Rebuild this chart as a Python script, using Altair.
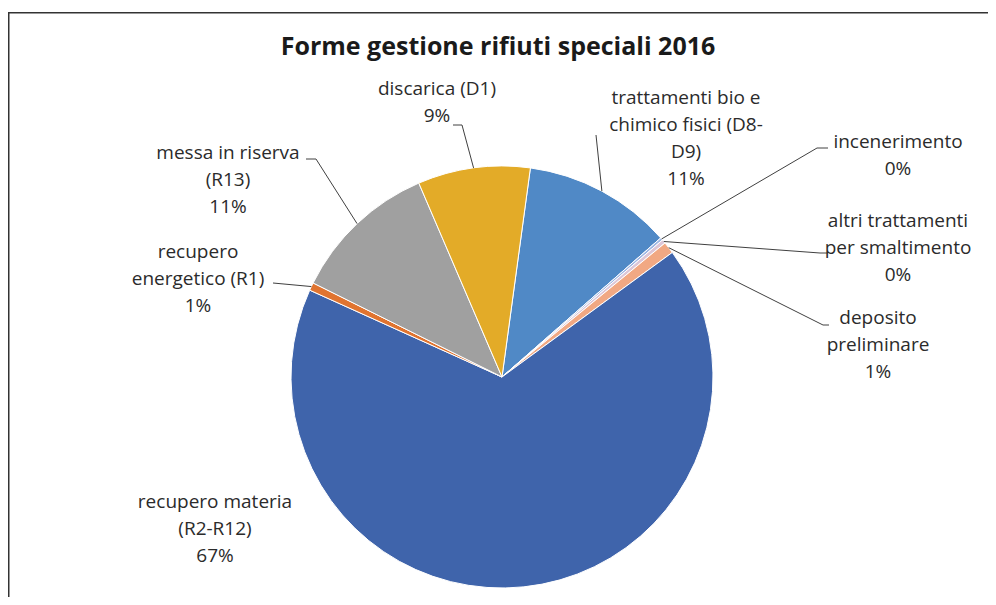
import math
import altair as alt
import pandas as pd

# ---------------- data ----------------
categories = [
    "trattamenti bio e chimico fisici (D8-D9)",
    "incenerimento",
    "altri trattamenti per smaltimento",
    "deposito preliminare",
    "recupero materia (R2-R12)",
    "recupero energetico (R1)",
    "messa in riserva (R13)",
    "discarica (D1)",
]
values = [11.4, 0.2, 0.3, 0.9, 66.8, 0.6, 11.2, 8.6]
label_lines = [
    ["trattamenti bio e", "chimico fisici (D8-", "D9)"],
    ["incenerimento"],
    ["altri trattamenti", "per smaltimento"],
    ["deposito", "preliminare"],
    ["recupero materia", "(R2-R12)"],
    ["recupero", "energetico (R1)"],
    ["messa in riserva", "(R13)"],
    ["discarica (D1)"],
]
title_text = "Forme gestione rifiuti speciali 2016"

# ---------------- styles / layout ----------------
colors = ["#5089C6", "#9DB5E3", "#DCC6D8", "#F1A883",
          "#3F64AB", "#E07430", "#A0A0A0", "#E3AB28"]
FONT = "Open Sans"
TEXT_COLOR = "#2b2b2b"
OFF = 8  # page margin
cx, cy, R = 502 - OFF, 377 - OFF, 211
start = math.radians(7.74)
# label anchor (centre x, first-line y) in page pixels
label_pos = [(686, 98), (898, 142), (898, 221), (878, 318),
             (215, 502), (198, 252), (228, 153), (437, 89)]
line_step = 27
# leader-line bend points (page pixels) from pie edge to label
leaders = [[(596, 135)], [(817, 148), (828, 148)], [(820, 253), (828, 253)],
           [(823, 325), (829, 325)], [], [(273, 283)],
           [(316, 159), (306, 159)], [(462, 125), (453, 125)]]

total = sum(values)
df = pd.DataFrame({"cat": categories, "val": values, "idx": list(range(len(values)))})

# text rows
trows = []
for i, (lines, (lx, ly)) in enumerate(zip(label_lines, label_pos)):
    pct = f"{round(values[i] / total * 100)}%"
    for k, t in enumerate(lines + [pct]):
        trows.append({"t": t, "tx": lx - OFF, "ty": ly - OFF + k * line_step})
tdf = pd.DataFrame(trows)

# leader lines: start at slice mid-angle on edge
lrows = []
cum = 0.0
for i, v in enumerate(values):
    mid = start + 2 * math.pi * (cum + v / 2) / total
    cum += v
    if not leaders[i]:
        continue
    pts = [(cx + R * math.sin(mid), cy - R * math.cos(mid))] + \
          [(px - OFF, py - OFF) for px, py in leaders[i]]
    for s, (px, py) in enumerate(pts):
        lrows.append({"line": i, "seq": s, "px": px, "py": py})
ldf = pd.DataFrame(lrows)

pie = alt.Chart(df).mark_arc(outerRadius=R, stroke="white", strokeWidth=1).encode(
    theta=alt.Theta("val:Q", stack=True,
                    scale=alt.Scale(range=[start, start + 2 * math.pi])),
    color=alt.Color("cat:N", scale=alt.Scale(domain=categories, range=colors), legend=None),
    order=alt.Order("idx:Q"),
    x=alt.value(cx), y=alt.value(cy),
)

lines = alt.Chart(ldf).mark_line(color="#404040", strokeWidth=1).encode(
    x=alt.X("px:Q", scale=None, axis=None),
    y=alt.Y("py:Q", scale=None, axis=None),
    detail="line:N",
    order="seq:Q",
)

labels = alt.Chart(tdf).mark_text(font=FONT, fontSize=19, color=TEXT_COLOR,
                                  align="center", baseline="middle").encode(
    x=alt.X("tx:Q", scale=None, axis=None),
    y=alt.Y("ty:Q", scale=None, axis=None),
    text="t:N",
)

title = alt.Chart(pd.DataFrame({"t": [title_text]})).mark_text(
    font=FONT, fontSize=25, fontWeight="bold", color="#1a1a1a",
    align="center", baseline="middle").encode(
    x=alt.value(498 - OFF), y=alt.value(47 - OFF), text="t:N")

frame = alt.Chart(pd.DataFrame({"a": [0]})).mark_rect(
    fillOpacity=0, stroke="#333333", strokeWidth=1.5).encode(
    x=alt.value(0.75), y=alt.value(4.75), x2=alt.value(1200), y2=alt.value(900))

chart = alt.layer(frame, pie, lines, labels, title).properties(
    width=980, height=589, padding=0,
    autosize=alt.AutoSizeParams(type="none"),
).configure_view(stroke=None)

chart.save("out.html", embed_options={"renderer": "svg", "actions": False})
